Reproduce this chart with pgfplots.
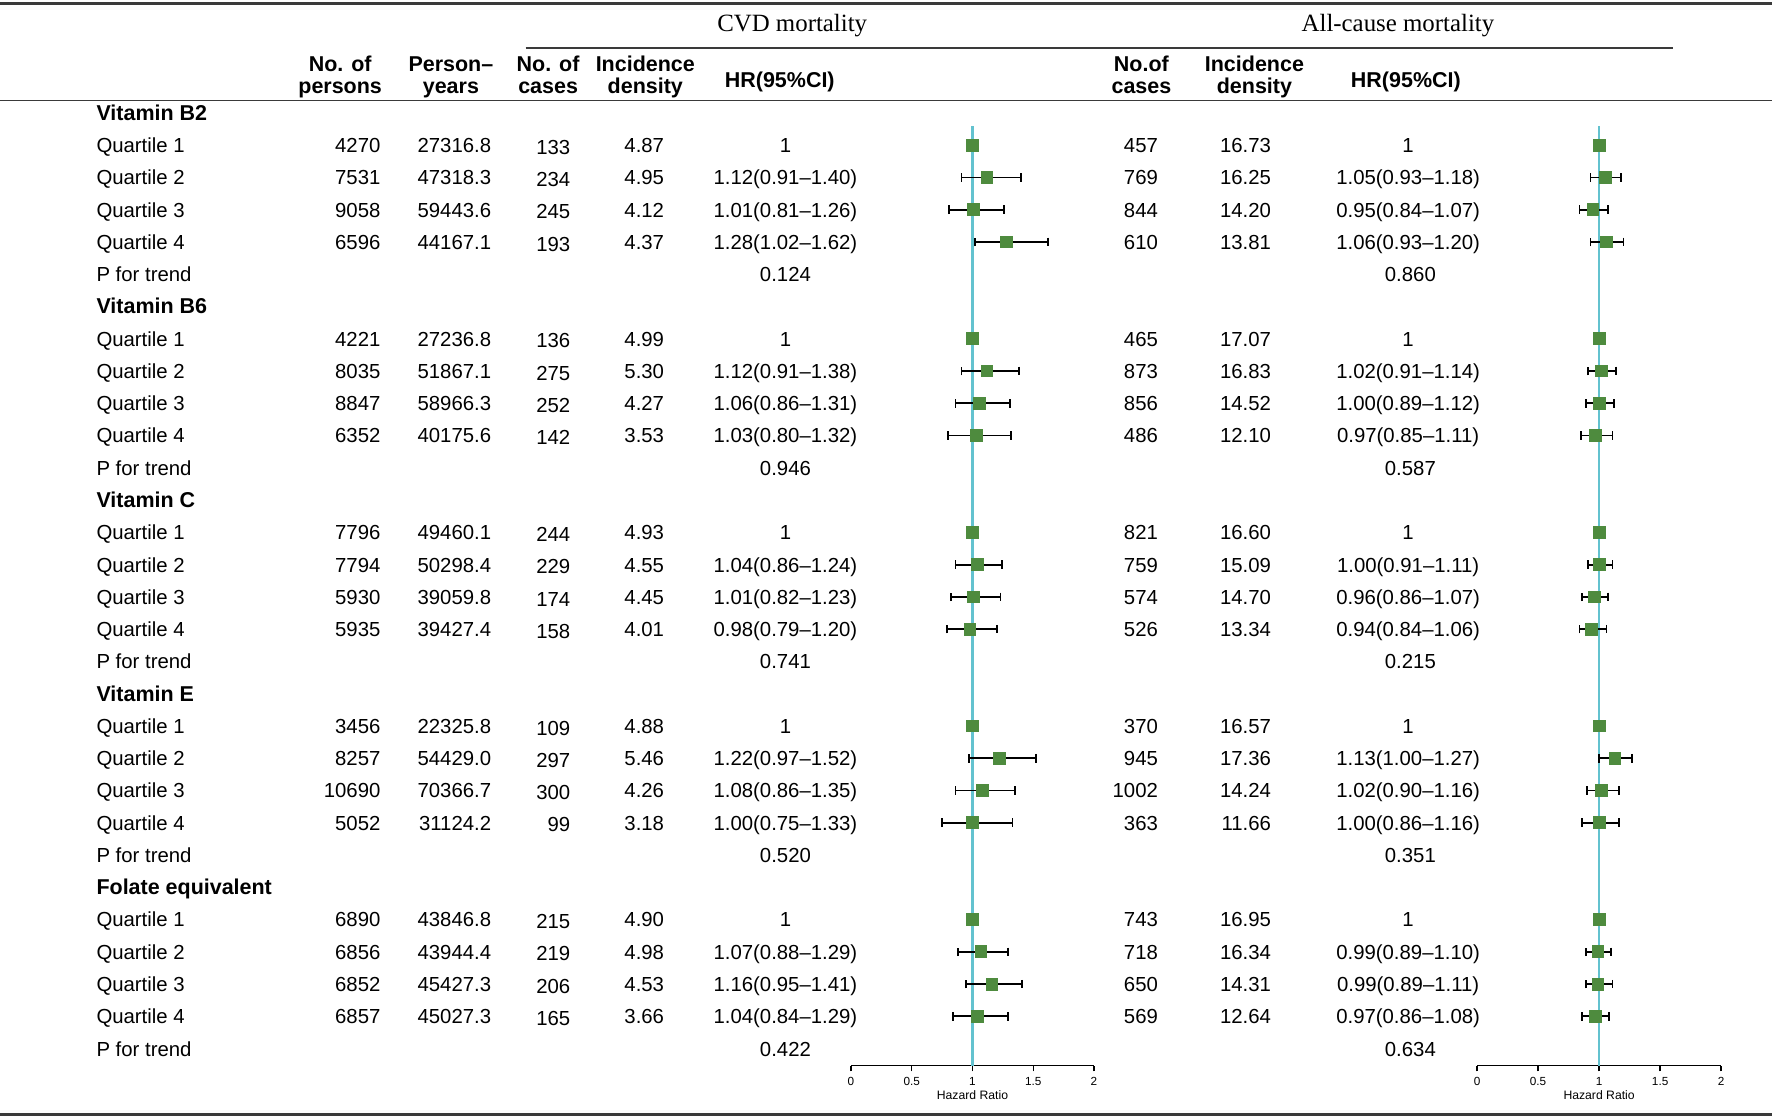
\documentclass[border=0pt]{standalone}
\usepackage{fontspec}
\setmainfont{Liberation Sans}
\newfontfamily\seriffont{Liberation Serif}
\usepackage{pgfplots}
\usepackage{pgfplotstable}
\pgfplotsset{compat=1.18}
\definecolor{sqgreen}{HTML}{4E8B3E}
\definecolor{refcyan}{HTML}{63C2CF}
\definecolor{rulegray}{HTML}{3A3A3A}

\pgfplotstableread{
y hr lo hi
1 1 1 1
2 1.12 0.91 1.40
3 1.01 0.81 1.26
4 1.28 1.02 1.62
7 1 1 1
8 1.12 0.91 1.38
9 1.06 0.86 1.31
10 1.03 0.80 1.32
13 1 1 1
14 1.04 0.86 1.24
15 1.01 0.82 1.23
16 0.98 0.79 1.20
19 1 1 1
20 1.22 0.97 1.52
21 1.08 0.86 1.35
22 1.00 0.75 1.33
25 1 1 1
26 1.07 0.88 1.29
27 1.16 0.95 1.41
28 1.04 0.84 1.29
}\cvd

\pgfplotstableread{
y hr lo hi
1 1 1 1
2 1.05 0.93 1.18
3 0.95 0.84 1.07
4 1.06 0.93 1.20
7 1 1 1
8 1.02 0.91 1.14
9 1.00 0.89 1.12
10 0.97 0.85 1.11
13 1 1 1
14 1.00 0.91 1.11
15 0.96 0.86 1.07
16 0.94 0.84 1.06
19 1 1 1
20 1.13 1.00 1.27
21 1.02 0.90 1.16
22 1.00 0.86 1.16
25 1 1 1
26 0.99 0.89 1.10
27 0.99 0.89 1.11
28 0.97 0.86 1.08
}\allc

\pgfplotsset{
  forest/.style={
    anchor=south west, x=53.75pt, y=14.275pt, y dir=reverse,
    xmin=0, xmax=2, ymin=0, ymax=29.53,
    axis x line*=bottom, hide y axis, clip=false,
    x axis line style={-, black, line width=0.6pt},
    xtick={0,0.5,1,1.5,2}, tick align=outside,
    major tick length=2.5pt,
    tick style={black, line width=0.6pt},
    /pgf/number format/assume math mode=true,
    ticklabel style={font=\fontsize{5.2}{6}\selectfont, inner sep=2.5pt},
    xlabel={Hazard Ratio},
    xlabel style={font=\fontsize{5.4}{6}\selectfont, inner sep=0pt, yshift=0.5pt},
  },
  ebars/.style={black, only marks, mark=none,
    error bars/.cd, x dir=both, x explicit,
    error bar style={black, line width=0.8pt},
    error mark options={black, rotate=90, mark size=1.9pt, line width=0.8pt}},
  sq/.style={only marks, mark=square*, mark size=2.6pt, mark options={fill=sqgreen, draw=sqgreen}},
}

\begin{document}
\begin{tikzpicture}[x=0.5pt, y=-0.5pt,
  tx/.style={font=\fontsize{9}{11}\selectfont, inner sep=0pt},
  hd/.style={font=\fontsize{9.5}{11}\bfseries, inner sep=0pt}]
\useasboundingbox (0,0) rectangle (1568,988);
\coordinate (cvdpos) at (753,943);
\coordinate (allpos) at (1307,943);

% rules
\draw[rulegray, line width=1pt] (0,3) -- (1568,3);
\draw[rulegray, line width=0.7pt] (465,42.5) -- (1480,42.5);
\draw[rulegray, line width=0.8pt] (0,89) -- (1568,89);
\draw[rulegray, line width=1.2pt] (0,986) -- (1568,986);

% titles
\node[font=\seriffont\fontsize{11}{13}\selectfont, inner sep=0pt, anchor=base] at (701,28) {CVD mortality};
\node[font=\seriffont\fontsize{11}{13}\selectfont, inner sep=0pt, anchor=base] at (1237,28) {All-cause mortality};

% column headers
\foreach \x/\a/\b in {301/No. of/persons, 399/Person–/years, 485/No. of/cases, 571/Incidence/density, 1010/No.of/cases, 1110/Incidence/density}{
  \node[hd, anchor=base] at (\x,63.5) {\a};
  \node[hd, anchor=base] at (\x,83) {\b};
}
\node[hd, anchor=base] at (690,77) {HR(95\%CI)};
\node[hd, anchor=base] at (1244,77) {HR(95\%CI)};

% group headers
\foreach \i/\nm in {0/Vitamin B2, 6/Vitamin B6, 12/Vitamin C, 18/Vitamin E, 24/Folate equivalent}{
  \pgfmathsetmacro\yy{100+28.55*\i+6.5}
  \node[hd, anchor=base west] at (85,\yy) {\nm};
}

% quartile rows
\foreach \i/\q/\pa/\pb/\pc/\pd/\pe/\pf/\pg/\ph in {
 1/1/4270/27316.8/133/4.87/1/457/16.73/1,
 2/2/7531/47318.3/234/4.95/1.12(0.91–1.40)/769/16.25/1.05(0.93–1.18),
 3/3/9058/59443.6/245/4.12/1.01(0.81–1.26)/844/14.20/0.95(0.84–1.07),
 4/4/6596/44167.1/193/4.37/1.28(1.02–1.62)/610/13.81/1.06(0.93–1.20),
 7/1/4221/27236.8/136/4.99/1/465/17.07/1,
 8/2/8035/51867.1/275/5.30/1.12(0.91–1.38)/873/16.83/1.02(0.91–1.14),
 9/3/8847/58966.3/252/4.27/1.06(0.86–1.31)/856/14.52/1.00(0.89–1.12),
 10/4/6352/40175.6/142/3.53/1.03(0.80–1.32)/486/12.10/0.97(0.85–1.11),
 13/1/7796/49460.1/244/4.93/1/821/16.60/1,
 14/2/7794/50298.4/229/4.55/1.04(0.86–1.24)/759/15.09/1.00(0.91–1.11),
 15/3/5930/39059.8/174/4.45/1.01(0.82–1.23)/574/14.70/0.96(0.86–1.07),
 16/4/5935/39427.4/158/4.01/0.98(0.79–1.20)/526/13.34/0.94(0.84–1.06),
 19/1/3456/22325.8/109/4.88/1/370/16.57/1,
 20/2/8257/54429.0/297/5.46/1.22(0.97–1.52)/945/17.36/1.13(1.00–1.27),
 21/3/10690/70366.7/300/4.26/1.08(0.86–1.35)/1002/14.24/1.02(0.90–1.16),
 22/4/5052/31124.2/99/3.18/1.00(0.75–1.33)/363/11.66/1.00(0.86–1.16),
 25/1/6890/43846.8/215/4.90/1/743/16.95/1,
 26/2/6856/43944.4/219/4.98/1.07(0.88–1.29)/718/16.34/0.99(0.89–1.10),
 27/3/6852/45427.3/206/4.53/1.16(0.95–1.41)/650/14.31/0.99(0.89–1.11),
 28/4/6857/45027.3/165/3.66/1.04(0.84–1.29)/569/12.64/0.97(0.86–1.08)}{
  \pgfmathsetmacro\yy{100+28.55*\i+6.5}
  \pgfmathsetmacro\yc{\yy+1.5}
  \node[tx, anchor=base west] at (85,\yy) {Quartile \q};
  \node[tx, anchor=base east] at (337,\yy) {\pa};
  \node[tx, anchor=base east] at (435,\yy) {\pb};
  \node[tx, anchor=base east] at (505,\yc) {\pc};
  \node[tx, anchor=base east] at (588,\yy) {\pd};
  \node[tx, anchor=base] at (695,\yy) {\pe};
  \node[tx, anchor=base east] at (1025,\yy) {\pf};
  \node[tx, anchor=base east] at (1125,\yy) {\pg};
  \node[tx, anchor=base] at (1246,\yy) {\ph};
}

% P for trend rows
\foreach \i/\p/\pp in {5/0.124/0.860, 11/0.946/0.587, 17/0.741/0.215, 23/0.520/0.351, 29/0.422/0.634}{
  \pgfmathsetmacro\yy{100+28.55*\i+6.5}
  \node[tx, anchor=base west] at (85,\yy) {P for trend};
  \node[tx, anchor=base] at (695,\yy) {\p};
  \node[tx, anchor=base] at (1248,\yy) {\pp};
}

% CVD forest plot
\begin{axis}[forest, at={(cvdpos)}]
  \addplot[refcyan, line width=1pt] coordinates {(1,0.42) (1,29.53)};
  \addplot[ebars] table[x=hr, y=y, x error plus expr=\thisrow{hi}-\thisrow{hr}, x error minus expr=\thisrow{hr}-\thisrow{lo}] {\cvd};
  \addplot[sq] table[x=hr, y=y] {\cvd};
\end{axis}

% All-cause forest plot
\begin{axis}[forest, at={(allpos)}, x=54pt]
  \addplot[refcyan, line width=1pt] coordinates {(1,0.42) (1,29.53)};
  \addplot[ebars] table[x=hr, y=y, x error plus expr=\thisrow{hi}-\thisrow{hr}, x error minus expr=\thisrow{hr}-\thisrow{lo}] {\allc};
  \addplot[sq] table[x=hr, y=y] {\allc};
\end{axis}
\end{tikzpicture}
\end{document}
